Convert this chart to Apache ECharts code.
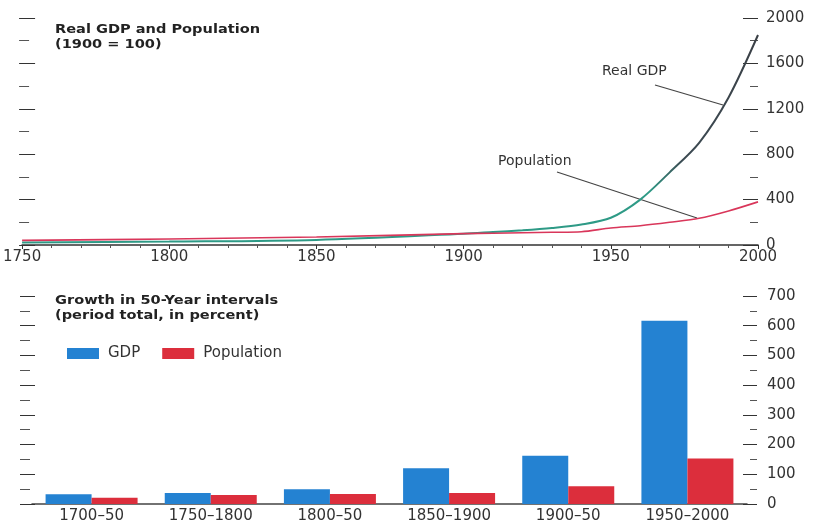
<!DOCTYPE html>
<html><head><meta charset="utf-8">
<script src="https://cdn.jsdelivr.net/npm/echarts@6/dist/echarts.min.js"></script>
<style>html,body{margin:0;padding:0;background:#fff}#c{width:818px;height:524px}</style>
</head><body><div id="c"></div>
<script>
// ---- data ----
const years = [1750,1800,1850,1900,1910,1920,1930,1940,1950,1960,1970,1980,1990,2000];
const gdpIndex = [21,30,45,100,115,130,150,180,240,400,640,900,1300,1850];
const popIndex = [41,53,71,100,104,108,112,117,150,170,200,235,300,380];
const periods = ['1700–50','1750–1800','1800–50','1850–1900','1900–50','1950–2000'];
const gdpGrowth = [33,37,50,120,162,617];
const popGrowth = [21,30,34,37,60,153];

const chart = echarts.init(document.getElementById('c'));
const FONT = 'DejaVu Sans';
const plain = v => String(v);
const lbl = {color:'#333', fontFamily:FONT, fontSize:15, formatter:plain};
const gdpLine = new echarts.graphic.LinearGradient(0,1,0,0,[
  {offset:0,color:'#2e9a86'},{offset:0.25,color:'#2e9a86'},{offset:0.4,color:'#3c4a52'},{offset:1,color:'#3a3f45'}]);

chart.setOption({
  animation:false,
  grid:[
    {left:15, right:60, top:18, height:227},
    {left:32, right:71, top:296, height:212}
  ],
  xAxis:[
    {type:'value', gridIndex:0, min:1750, max:2000, interval:50,
     axisLine:{lineStyle:{color:'#333',width:1.5}},
     axisTick:{show:true,length:4,lineStyle:{color:'#333'}},
     minorTick:{show:true,splitNumber:5,length:3,lineStyle:{color:'#555'}},
     splitLine:{show:false}, axisLabel:Object.assign({margin:5},lbl)},
    {type:'category', gridIndex:1, data:periods,
     axisLine:{lineStyle:{color:'#444',width:1.5}}, axisTick:{show:false},
     axisLabel:{margin:5,interval:0,color:'#333',fontFamily:FONT,fontSize:15}}
  ],
  yAxis:[
    {type:'value', gridIndex:0, position:'right', min:0, max:2000, interval:400,
     axisLine:{show:false}, splitLine:{show:false},
     axisTick:{show:true,inside:true,length:15,lineStyle:{color:'#333'}},
     minorTick:{show:true,splitNumber:2,length:8,lineStyle:{color:'#555'}},
     axisLabel:Object.assign({margin:8},lbl)},
    {type:'value', gridIndex:0, position:'left', offset:3, min:0, max:2000, interval:400,
     axisLine:{show:false}, splitLine:{show:false}, axisLabel:{show:false},
     axisTick:{show:true,inside:true,length:16,lineStyle:{color:'#333'}},
     minorTick:{show:true,splitNumber:2,length:10,lineStyle:{color:'#555'}}},
    {type:'value', gridIndex:1, position:'right', offset:10, min:0, max:700, interval:100,
     axisLine:{show:false}, splitLine:{show:false},
     axisTick:{show:true,inside:true,length:14,lineStyle:{color:'#333'}},
     minorTick:{show:true,splitNumber:2,length:7,lineStyle:{color:'#555'}},
     axisLabel:Object.assign({margin:10},lbl)},
    {type:'value', gridIndex:1, position:'left', offset:12, min:0, max:700, interval:100,
     axisLine:{show:false}, splitLine:{show:false}, axisLabel:{show:false},
     axisTick:{show:true,inside:true,length:15,lineStyle:{color:'#333'}},
     minorTick:{show:true,splitNumber:2,length:10,lineStyle:{color:'#555'}}}
  ],
  legend:{left:62, top:341, itemWidth:32, itemHeight:11, itemGap:22, icon:'rect',
    data:['GDP','Population'],
    textStyle:{color:'#333', fontFamily:FONT, fontSize:15, padding:[0,0,0,4]}},
  series:[
    {name:'Real GDP', type:'line', xAxisIndex:0, yAxisIndex:0, symbol:'none', smooth:0.3,
     data:years.map((y,i)=>[y,gdpIndex[i]]), lineStyle:{color:gdpLine,width:2}},
    {name:'Population index', type:'line', xAxisIndex:0, yAxisIndex:0, symbol:'none', smooth:0.3,
     data:years.map((y,i)=>[y,popIndex[i]]), lineStyle:{color:'#d9365a',width:1.6}},
    {name:'GDP', type:'bar', xAxisIndex:1, yAxisIndex:2, data:gdpGrowth, barWidth:46, barGap:'0%',
     itemStyle:{color:'#2482d2'}},
    {name:'Population', type:'bar', xAxisIndex:1, yAxisIndex:2, data:popGrowth, barWidth:46, barGap:'0%',
     itemStyle:{color:'#dc2e3c'}}
  ],
  graphic:[
    {type:'text', left:55, top:22, scaleX:1.12, style:{text:'Real GDP and Population\n(1900 = 100)', fill:'#222', font:'bold 13px "DejaVu Sans"', lineHeight:15}},
    {type:'text', left:55, top:293, scaleX:1.12, style:{text:'Growth in 50-Year intervals\n(period total, in percent)', fill:'#222', font:'bold 13px "DejaVu Sans"', lineHeight:15}},
    {type:'text', left:602, top:64, style:{text:'Real GDP', fill:'#333', font:'14px "DejaVu Sans"'}},
    {type:'text', left:498, top:154, style:{text:'Population', fill:'#333', font:'14px "DejaVu Sans"'}},
    {type:'line', shape:{x1:655,y1:85,x2:723,y2:105}, style:{stroke:'#444',lineWidth:1.2}},
    {type:'line', shape:{x1:557,y1:172,x2:697,y2:218}, style:{stroke:'#444',lineWidth:1.2}}
  ]
});
</script></body></html>
